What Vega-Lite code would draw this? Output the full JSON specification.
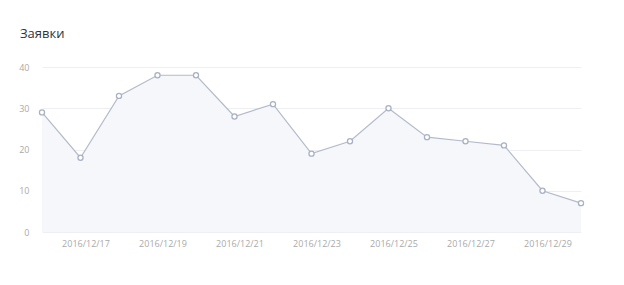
{
  "$schema": "https://vega.github.io/schema/vega-lite/v6.json",
  "width": 539,
  "height": 165,
  "autosize": {"type": "none"},
  "padding": {"left": 42, "top": 67, "right": 43, "bottom": 53},
  "background": "#ffffff",
  "title": {
    "text": "Заявки",
    "anchor": "start",
    "frame": "group",
    "font": "Open Sans",
    "fontSize": 13,
    "fontWeight": "normal",
    "color": "#333333",
    "baseline": "alphabetic",
    "offset": 24,
    "dx": -22,
    "dy": 12
  },
  "data": {
    "values": [
      {"date": "2016/12/16", "value": 29},
      {"date": "2016/12/17", "value": 18},
      {"date": "2016/12/18", "value": 33},
      {"date": "2016/12/19", "value": 38},
      {"date": "2016/12/20", "value": 38},
      {"date": "2016/12/21", "value": 28},
      {"date": "2016/12/22", "value": 31},
      {"date": "2016/12/23", "value": 19},
      {"date": "2016/12/24", "value": 22},
      {"date": "2016/12/25", "value": 30},
      {"date": "2016/12/26", "value": 23},
      {"date": "2016/12/27", "value": 22},
      {"date": "2016/12/28", "value": 21},
      {"date": "2016/12/29", "value": 10},
      {"date": "2016/12/30", "value": 7}
    ]
  },
  "encoding": {
    "x": {
      "field": "date",
      "type": "ordinal",
      "sort": null,
      "scale": {"type": "point", "padding": 0},
      "axis": {
        "title": null,
        "domain": false,
        "ticks": false,
        "grid": false,
        "labelAngle": 0,
        "labelFont": "Open Sans",
        "labelFontSize": 9,
        "labelColor": "#aaaaaa",
        "labelPadding": 7,
        "labelOffset": 5,
        "labelOverlap": false,
        "labelExpr": "parseInt(slice(datum.label, 8)) % 2 == 1 && datum.label != '2016/12/16' ? datum.label : ''",
        "labelFlush": false
      }
    },
    "y": {
      "field": "value",
      "type": "quantitative",
      "scale": {"domain": [0, 40], "nice": false},
      "axis": {
        "title": null,
        "values": [0, 10, 20, 30, 40],
        "domain": false,
        "ticks": false,
        "gridColor": "#eeeff2",
        "gridWidth": 1,
        "labelFont": "Open Sans",
        "labelFontSize": 9,
        "labelColor": "#aaaaaa",
        "labelPadding": 13
      }
    }
  },
  "layer": [
    {"mark": {"type": "area", "color": "#f6f7fa"}},
    {"mark": {"type": "line", "color": "#b3bac9", "strokeWidth": 1.2}},
    {"mark": {"type": "point", "filled": true, "fill": "#ffffff", "stroke": "#a9b1c2", "strokeWidth": 1.3, "size": 26, "opacity": 1}}
  ],
  "config": {"view": {"stroke": null}}
}
